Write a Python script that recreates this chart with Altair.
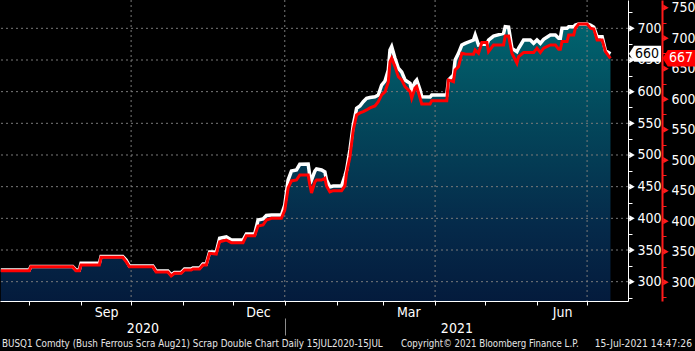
import altair as alt
import pandas as pd

# ---------------- data ----------------
dates = [
    "2020-07-15", "2020-08-01", "2020-08-02", "2020-08-27", "2020-08-29", "2020-08-31", "2020-09-01", "2020-09-12", "2020-09-13", "2020-09-26",
    "2020-09-28", "2020-09-30", "2020-10-14", "2020-10-16", "2020-10-23", "2020-10-25", "2020-10-27", "2020-10-31", "2020-11-02", "2020-11-06",
    "2020-11-07", "2020-11-11", "2020-11-13", "2020-11-15", "2020-11-17", "2020-11-21", "2020-11-23", "2020-11-27", "2020-11-30", "2020-12-07",
    "2020-12-09", "2020-12-14", "2020-12-16", "2020-12-19", "2020-12-21", "2020-12-24", "2020-12-30", "2021-01-01", "2021-01-03", "2021-01-05",
    "2021-01-08", "2021-01-10", "2021-01-15", "2021-01-16", "2021-01-17", "2021-01-19", "2021-01-20", "2021-01-23", "2021-01-25", "2021-01-26",
    "2021-01-28", "2021-01-30", "2021-02-04", "2021-02-06", "2021-02-07", "2021-02-09", "2021-02-11", "2021-02-13", "2021-02-15", "2021-02-17",
    "2021-02-19", "2021-02-21", "2021-02-24", "2021-02-26", "2021-02-28", "2021-03-02", "2021-03-04", "2021-03-05", "2021-03-06", "2021-03-08",
    "2021-03-10", "2021-03-12", "2021-03-14", "2021-03-17", "2021-03-18", "2021-03-20", "2021-03-21", "2021-03-23", "2021-03-24", "2021-03-29",
    "2021-03-30", "2021-04-08", "2021-04-09", "2021-04-12", "2021-04-13", "2021-04-15", "2021-04-17", "2021-04-19", "2021-04-24", "2021-04-25",
    "2021-04-27", "2021-04-29", "2021-05-02", "2021-05-03", "2021-05-06", "2021-05-12", "2021-05-13", "2021-05-15", "2021-05-17", "2021-05-20",
    "2021-05-21", "2021-05-24", "2021-05-28", "2021-05-30", "2021-06-01", "2021-06-03", "2021-06-05", "2021-06-09", "2021-06-12", "2021-06-14",
    "2021-06-15", "2021-06-16", "2021-06-19", "2021-06-20", "2021-06-23", "2021-06-24", "2021-06-26", "2021-07-01", "2021-07-03", "2021-07-05",
    "2021-07-07", "2021-07-10", "2021-07-12", "2021-07-15",
]

white_series = [
    318.5, 318.5, 324, 324, 318.5, 318.5, 329, 329, 339.8, 339.8,
    334.3, 324.8, 324.8, 316.9, 316.9, 310.6, 314.5, 314.5, 320, 320,
    321.6, 321.6, 327.9, 327.9, 346.9, 346.9, 368.5, 370.6, 365.8, 365.8,
    375.3, 375.3, 397.4, 399, 404.5, 405.3, 405.3, 421, 460.5, 474.7,
    476.3, 485.3, 485.8, 466.8, 460.5, 474.7, 477.9, 476.3, 473.2, 460.5,
    449.5, 451, 451, 466.8, 476.3, 507.9, 547.4, 573.7, 577.3, 584.1,
    589.5, 590.8, 592, 594.7, 610.5, 616.8, 634.2, 665.7, 671, 652.6,
    636.9, 631, 618.4, 613.2, 602.6, 615.2, 618.4, 602.6, 592, 591.5,
    594.7, 594.7, 618.4, 626.3, 650, 660.5, 673.6, 676.3, 681.5, 689.4,
    673.6, 674.7, 674.7, 681.5, 687.8, 692.1, 702.5, 702, 668.4, 663,
    668.4, 681.5, 681.5, 676.3, 681.5, 676.3, 682.6, 689.4, 689.4, 684.2,
    684.2, 700, 700, 702.5, 702.5, 705.2, 706.8, 706.8, 705.2, 702,
    686.7, 686.7, 664.6, 660,
]

red_series = [
    318.9, 318.9, 325.4, 325.4, 318.9, 318.9, 328.2, 328.2, 340.8, 340.8,
    333.6, 325.4, 325.4, 316.7, 316.7, 310.2, 314.6, 314.6, 320, 320,
    321.6, 321.6, 328.2, 328.2, 347.4, 346.2, 366.4, 369.2, 364.8, 364.8,
    376.3, 376.3, 392.2, 393.8, 402, 404.8, 404.8, 418.4, 454.5, 466,
    467.6, 475.8, 475.8, 459.4, 446.3, 464.3, 467.6, 467.6, 470.4, 457.8,
    447.9, 450, 450, 457.8, 479.1, 505.3, 549.6, 574.2, 577.5, 579.6,
    582.4, 585.7, 589, 596, 607, 611.9, 628.3, 661.1, 667.2, 653.4,
    637, 631.6, 620.6, 612.4, 601.6, 618.5, 620.6, 602, 592.2, 592.2,
    597.6, 597.6, 631.6, 628.8, 648, 653.4, 675.4, 674.2, 673.7, 680.8,
    675.4, 692.8, 692.8, 678, 689, 689, 703.7, 703.7, 675.4, 659,
    669.8, 676.4, 676.4, 676.4, 683.6, 676.4, 683.6, 689, 689, 681.9,
    681.9, 694.4, 694.4, 705.4, 705.4, 716.4, 723.4, 723.4, 716.4, 715.2,
    697.2, 697.2, 678, 667,
]

white_ticks = list(range(275, 726, 25))
white_major = list(range(300, 701, 50))
red_ticks = list(range(275, 751, 25))
red_major = list(range(300, 751, 50))
grid_values = list(range(300, 701, 50))
quarter_grid = ["2020-10-01", "2021-01-01", "2021-04-01", "2021-07-01"]
month_starts = [(2020, m) for m in range(8, 13)] + [(2021, m) for m in range(1, 8)]
month_label_days = [(2020, 9, 16), (2020, 12, 16), (2021, 3, 16), (2021, 6, 16)]
footer_left = "BUSQ1 Comdty (Bush Ferrous Scra Aug21) Scrap Double Chart  Daily 15JUL2020-15JUL"
footer_mid = "Copyright© 2021 Bloomberg Finance L.P."
footer_right = "15-Jul-2021 14:47:26"

# ---------------- layout / style ----------------
W, H = 628, 301
F = "'Liberation Sans Narrow', 'DejaVu Sans Condensed', 'Arial Narrow', sans-serif"
GRID = "#7a7a7a"

x_start = pd.Timestamp("2020-07-14 12:00")
x_end = pd.Timestamp("2021-07-25 12:00")
jan1 = pd.Timestamp("2021-01-01")


def dt(ts):
    ts = pd.Timestamp(ts)
    return alt.DateTime(year=ts.year, month=ts.month, date=ts.day, hours=ts.hour, utc=True)


xscale = alt.Scale(type="utc", domain=[dt(x_start), dt(x_end)])
wscale = alt.Scale(domain=[269.5, 744.7], nice=False, zero=False)
rscale = alt.Scale(domain=[269.2, 762.6], nice=False, zero=False)

series = pd.DataFrame({"date": dates, "white": white_series, "red": red_series})

axis_months = alt.Axis(
    orient="bottom", values=[alt.DateTime(year=y, month=m, date=1, utc=True) for y, m in month_starts],
    labels=False, tickSize=4, tickColor="white", domainColor="white", domainWidth=1,
    grid=False, title=None, zindex=1,
)
axis_month_labels = alt.Axis(
    orient="bottom", values=[alt.DateTime(year=y, month=m, date=d, utc=True) for y, m, d in month_label_days],
    labelExpr="utcFormat(datum.value, '%b')", ticks=False, tickSize=0, domain=False, grid=False,
    labelColor="white", labelFont=F, labelFontSize=14, labelPadding=4, title=None,
    labelOverlap=False, labelFlush=False,
)
year_centers = [x_start + (jan1 - x_start) / 2, jan1 + (x_end - jan1) / 2]
axis_years = alt.Axis(
    orient="bottom", values=[dt(c) for c in year_centers],
    labelExpr="utcFormat(datum.value, '%Y')", ticks=False, tickSize=0, domain=False, grid=False,
    labelColor="white", labelFont=F, labelFontSize=14, labelPadding=4, offset=16, title=None,
    labelOverlap=False, labelFlush=False,
)
axis_year_sep = alt.Axis(
    orient="bottom", values=[dt(jan1)], labels=False, tickSize=17, tickColor="#8c8c8c", tickWidth=1,
    domain=False, grid=False, offset=17, title=None,
)

white_axis = alt.Axis(
    orient="right", values=white_ticks, labelExpr="datum.value % 50 === 0 ? datum.label : ''",
    tickSize=4, tickColor="white", domainColor="white", domainWidth=1, grid=False,
    labelColor="white", labelFont=F, labelFontSize=14, labelPadding=5, labelOverlap=False,
    labelFlush=False, title=None,
)
red_axis = alt.Axis(
    orient="right", values=red_ticks, labelExpr="datum.value % 50 === 0 ? datum.label : ''",
    offset=34, tickSize=4, tickColor="#ff1a1a", domainColor="#ff1a1a", domainWidth=2, grid=False,
    labelColor="white", labelFont=F, labelFontSize=14, labelPadding=5, labelOverlap=False,
    labelFlush=False, title=None,
)

grad = alt.Gradient(
    gradient="linear",
    stops=[
        alt.GradientStop(color="#010228", offset=0),
        alt.GradientStop(color="#031436", offset=0.3),
        alt.GradientStop(color="#052a4a", offset=0.55),
        alt.GradientStop(color="#03495c", offset=0.8),
        alt.GradientStop(color="#00646f", offset=1),
    ],
    x1=1, x2=1, y1=1, y2=0,
)

area = alt.Chart(series).mark_area(color=grad, clip=True).encode(
    x=alt.X("date:T", scale=xscale, axis=axis_months),
    y=alt.Y("white:Q", scale=wscale, axis=None),
)

hgrid = alt.Chart(pd.DataFrame({"v": grid_values})).mark_rule(
    color=GRID, strokeDash=[2, 3], strokeWidth=1
).encode(y=alt.Y("v:Q", scale=wscale, axis=None))

vgrid = alt.Chart(pd.DataFrame({"d": quarter_grid})).mark_rule(
    color=GRID, strokeDash=[2, 3], strokeWidth=1
).encode(x=alt.X("d:T", scale=xscale, axis=axis_year_sep))

white_line = alt.Chart(series).mark_line(color="white", strokeWidth=3.5).encode(
    x=alt.X("date:T", scale=xscale, axis=axis_month_labels),
    y=alt.Y("white:Q", scale=wscale, axis=white_axis),
)

red_line = alt.Chart(series).mark_line(color="#ff0000", strokeWidth=3).encode(
    x=alt.X("date:T", scale=xscale, axis=axis_years),
    y=alt.Y("red:Q", scale=rscale, axis=red_axis),
)

white_tri = alt.Chart(pd.DataFrame({"v": white_major})).mark_point(
    shape="triangle-right", filled=True, size=40, color="white", opacity=1
).encode(x=alt.value(W + 4), y=alt.Y("v:Q", scale=wscale, axis=None))

red_tri = alt.Chart(pd.DataFrame({"v": red_major})).mark_point(
    shape="triangle-right", filled=True, size=40, color="#ff1a1a", opacity=1
).encode(x=alt.value(W + 38), y=alt.Y("v:Q", scale=rscale, axis=None))

BOX = "M-1,0 L-0.68,-0.5 L1,-0.5 L1,0.5 L-0.68,0.5 Z"
last_w = pd.DataFrame({"v": [white_series[-1]], "t": [f"{white_series[-1]:.0f}"]})
last_r = pd.DataFrame({"v": [red_series[-1]], "t": [f"{red_series[-1]:.0f}"]})

white_box = alt.Chart(last_w).mark_point(
    shape=BOX, filled=True, size=1024, color="white", opacity=1, strokeWidth=0
).encode(x=alt.value(W + 17), y=alt.Y("v:Q", scale=wscale, axis=None))
white_txt = alt.Chart(last_w).mark_text(
    font=F, fontSize=14, color="black", align="center", baseline="middle", dx=2
).encode(x=alt.value(W + 17), y=alt.Y("v:Q", scale=wscale, axis=None), text="t:N")

red_box = alt.Chart(last_r).mark_point(
    shape=BOX, filled=True, size=1089, color="#ff0000", opacity=1, strokeWidth=0
).encode(x=alt.value(W + 51), y=alt.Y("v:Q", scale=rscale, axis=None))
red_txt = alt.Chart(last_r).mark_text(
    font=F, fontSize=14, color="white", align="center", baseline="middle", dx=2
).encode(x=alt.value(W + 51), y=alt.Y("v:Q", scale=rscale, axis=None), text="t:N")


def footer(text, xpos, align, size):
    return alt.Chart(pd.DataFrame({"t": [text]})).mark_text(
        font=F, fontSize=size, color="#e6e6e6", align=align, baseline="alphabetic"
    ).encode(x=alt.value(xpos), y=alt.value(347), text="t:N")


chart = alt.layer(
    area, hgrid, vgrid, white_line, red_line, white_tri, red_tri,
    white_box, white_txt, red_box, red_txt,
    footer(footer_left, 2, "left", 9.8), footer(footer_mid, 401, "left", 9.6),
    footer(footer_right, 692, "right", 10.2),
).resolve_scale(y="independent").resolve_axis(x="independent", y="independent").properties(
    width=W, height=H,
    padding={"left": 0, "top": 0, "right": 67, "bottom": 50},
    autosize=alt.AutoSizeParams(type="none"),
).configure(background="black").configure_view(stroke=None)

chart.save("out.html", embed_options={"renderer": "svg", "actions": False})
